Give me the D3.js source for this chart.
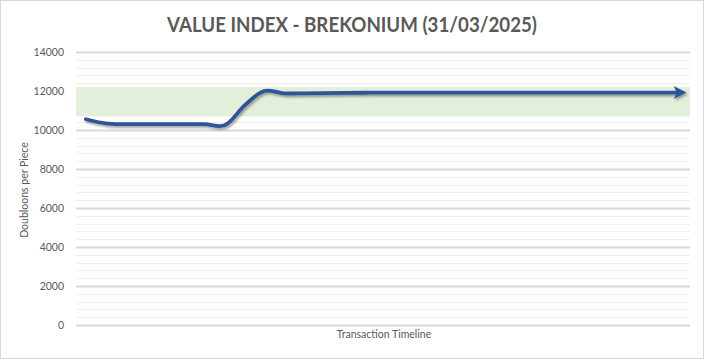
<!DOCTYPE html>
<html>
<head>
<meta charset="utf-8">
<script src="https://cdn.jsdelivr.net/npm/d3@7"></script>
<style>
  html, body { margin: 0; padding: 0; background: #fff; }
  svg { display: block; }
</style>
</head>
<body>
<div id="chart"></div>
<script>
// ---- Data ----
const title = "VALUE INDEX - BREKONIUM (31/03/2025)";
const yAxisTitle = "Doubloons per Piece";
const xAxisTitle = "Transaction Timeline";
const yTicks = [0, 2000, 4000, 6000, 8000, 10000, 12000, 14000];
const bandRange = [10700, 12200];
const periods = d3.range(1, 32).map(i => "T" + i);
const values = [10550, 10340, 10300, 10300, 10300, 10300, 10300, 10240, 11250, 12000, 11880,
                11880, 11890, 11900, 11910, 11920, 11920, 11920, 11920, 11920, 11920,
                11920, 11920, 11920, 11920, 11920, 11920, 11920, 11920, 11920, 11920];

// ---- Layout ----
const W = 704, H = 359;
const plot = { left: 76, right: 690, top: 52, bottom: 325 };

const svg = d3.select("#chart").append("svg")
  .attr("width", W).attr("height", H)
  .style("font-family", "Lato, 'Open Sans', sans-serif");

svg.append("rect").attr("x", 0.5).attr("y", 0.5).attr("width", W - 1).attr("height", H - 1)
  .attr("fill", "#fff").attr("stroke", "#d9d9d9");

const defs = svg.append("defs");
const f = defs.append("filter").attr("id", "shadow").attr("x", "-5%").attr("y", "-20%")
  .attr("width", "110%").attr("height", "160%");
f.append("feDropShadow").attr("dx", 1.5).attr("dy", 2).attr("stdDeviation", 1.3)
  .attr("flood-color", "#000").attr("flood-opacity", 0.35);

defs.append("marker").attr("id", "arrow")
  .attr("viewBox", "0 0 10 10").attr("refX", 5).attr("refY", 5)
  .attr("markerWidth", 3.6).attr("markerHeight", 3.4)
  .attr("orient", "auto").attr("markerUnits", "strokeWidth")
  .append("path").attr("d", "M0,0 L10,5 L0,10 L2.5,5 Z").attr("fill", "#2f5597");

const x = d3.scalePoint().domain(periods).range([plot.left, plot.right]).padding(0.5);
const y = d3.scaleLinear().domain([0, 14000]).range([plot.bottom, plot.top]);

// minor gridlines
const minor = d3.range(0, 14001, 400).filter(v => v % 2000 !== 0);
svg.append("g").selectAll("line").data(minor).join("line")
  .attr("x1", plot.left).attr("x2", plot.right)
  .attr("y1", d => Math.round(y(d)) + 0.5).attr("y2", d => Math.round(y(d)) + 0.5)
  .attr("stroke", "#efefef").attr("stroke-width", 1);

// major gridlines via axis
const yAxis = d3.axisLeft(y).tickValues(yTicks).tickSize(-(plot.right - plot.left)).tickPadding(12)
  .tickFormat(d3.format("d"));
const gy = svg.append("g").attr("transform", `translate(${plot.left},0)`).call(yAxis);
gy.select(".domain").remove();
gy.selectAll(".tick line").attr("stroke", "#d9d9d9").attr("stroke-width", 2);
gy.selectAll(".tick text").attr("fill", "#595959").style("font-size", "10.5px")
  .style("font-family", "Lato, sans-serif");

// band
svg.append("rect")
  .attr("x", plot.left).attr("width", plot.right - plot.left)
  .attr("y", y(bandRange[1])).attr("height", y(bandRange[0]) - y(bandRange[1]))
  .attr("fill", "#e2efda");

// line
const line = d3.line().x((d, i) => x(periods[i])).y(d => y(d)).curve(d3.curveCatmullRom.alpha(0.5));
svg.append("path").datum(values)
  .attr("d", line)
  .attr("fill", "none").attr("stroke", "#2f5597").attr("stroke-width", 3.8)
  .attr("stroke-linecap", "round")
  .attr("marker-end", "url(#arrow)")
  .attr("filter", "url(#shadow)");

// titles
svg.append("text").attr("x", 352).attr("y", 32).attr("text-anchor", "middle")
  .attr("fill", "#595959").style("font-size", "20px").style("font-weight", "bold")
  .attr("textLength", 370).attr("lengthAdjust", "spacingAndGlyphs")
  .text(title);

svg.append("text").attr("transform", "translate(28,190) rotate(-90)")
  .attr("text-anchor", "middle").attr("fill", "#595959").style("font-size", "10.5px")
  .text(yAxisTitle);

svg.append("text").attr("x", 384).attr("y", 338).attr("text-anchor", "middle")
  .attr("fill", "#595959").style("font-size", "10.5px")
  .text(xAxisTitle);
</script>
</body>
</html>
